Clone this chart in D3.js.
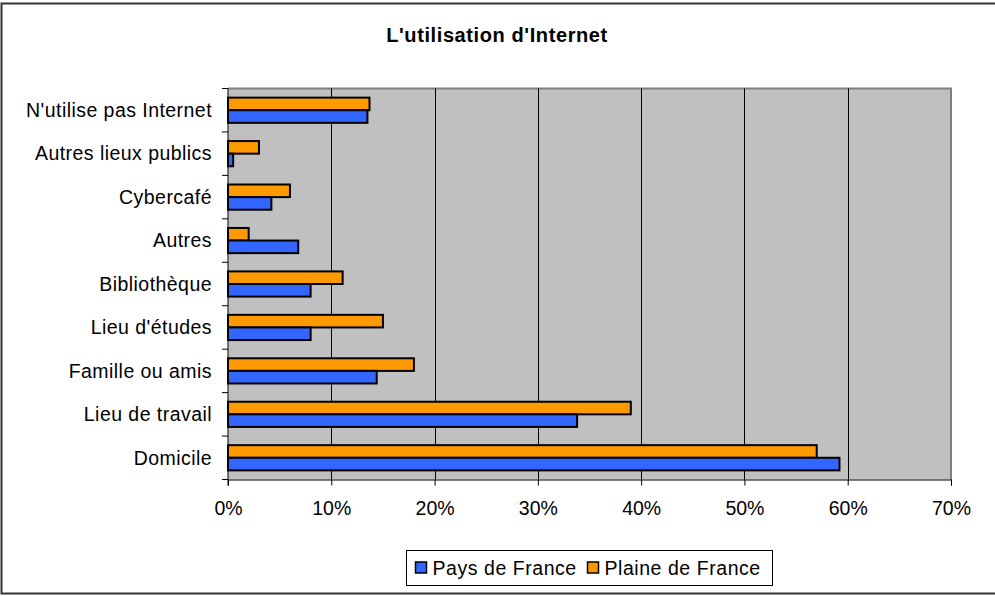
<!DOCTYPE html>
<html>
<head>
<meta charset="utf-8">
<script src="https://cdn.jsdelivr.net/npm/d3@7"></script>
<style>
  body { margin: 0; background: #fff; }
  svg { display: block; font-family: "Liberation Sans", Arial, sans-serif; }
</style>
</head>
<body>
<svg id="chart" width="995" height="596"></svg>
<script>
'use strict';

// categories, top to bottom
const categories = [
    "N'utilise pas Internet",
    "Autres lieux publics",
    "Cybercafé",
    "Autres",
    "Bibliothèque",
    "Lieu d'études",
    "Famille ou amis",
    "Lieu de travail",
    "Domicile"
];

const seriesNames = ["Pays de France", "Plaine de France"];

// percent values
const paysDeFrance = [13.5, 0.5, 4.2, 6.8, 8.0, 8.0, 14.4, 33.8, 59.2];
const plaineDeFrance = [13.7, 3.0, 6.0, 2.0, 11.1, 15.0, 18.0, 39.0, 57.0];

const xTicks = [0, 10, 20, 30, 40, 50, 60, 70];

const colors = {"Pays de France": "#3366FF", "Plaine de France": "#FF9900"};

const svg = d3.select('#chart');

// outer frame
svg.append("rect")
    .attr("x", 1.5).attr("y", 3.5)
    .attr("width", 1000).attr("height", 590)
    .attr("fill", "#fff")
    .attr("stroke", "#333").attr("stroke-width", 2);

svg.append("text")
    .attr("x", 497).attr("y", 42)
    .attr("text-anchor", "middle")
    .style("font-weight", "bold")
    .style("font-size", "20px")
    .style("letter-spacing", "0.6px")
    .text("L'utilisation d'Internet");

const plot = {left: 228, top: 88.5, right: 951, bottom: 479.5};

const x = d3.scaleLinear()
    .domain([0, 70])
    .range([plot.left, plot.right]);

const y = d3.scaleBand()
    .domain(categories)
    .range([plot.top, plot.bottom])
    .paddingInner(0.42)
    .paddingOuter(0.21);

// plaine on top, pays underneath
const ySub = d3.scaleBand()
    .domain(["Plaine de France", "Pays de France"])
    .range([0, y.bandwidth()]);

const g = svg.append("g");

g.append("rect")
    .attr("x", plot.left).attr("y", plot.top)
    .attr("width", plot.right - plot.left)
    .attr("height", plot.bottom - plot.top)
    .attr("fill", "#C0C0C0");

// plot border top/right
g.append("path")
    .attr("d", `M${plot.left},${plot.top}H${plot.right}V${plot.bottom}`)
    .attr("fill", "none")
    .attr("stroke", "#808080")
    .attr("stroke-width", 2);

// gridlines
g.selectAll(".grid")
    .data(xTicks.slice(1, -1))
    .enter()
    .append("line")
    .attr("x1", (d) => Math.round(x(d)) + 0.5)
    .attr("x2", (d) => Math.round(x(d)) + 0.5)
    .attr("y1", plot.top)
    .attr("y2", plot.bottom)
    .attr("stroke", "#000");

const rows = categories.map((c, i) => ({
    category: c,
    values: [
        {name: "Plaine de France", value: plaineDeFrance[i]},
        {name: "Pays de France", value: paysDeFrance[i]}
    ]
}));

g.selectAll(".row")
    .data(rows)
    .enter()
    .append("g")
    .attr("transform", (d) => `translate(0,${y(d.category)})`)
    .selectAll("rect")
    .data((d) => d.values)
    .enter()
    .append("rect")
    .attr("x", x(0))
    .attr("y", (d) => ySub(d.name))
    .attr("width", (d) => x(d.value) - x(0))
    .attr("height", ySub.bandwidth())
    .attr("fill", (d) => colors[d.name])
    .attr("stroke", "#000")
    .attr("stroke-width", 2);

// x axis
const xAxis = svg.append("g")
    .attr("transform", `translate(0,${plot.bottom})`)
    .call(d3.axisBottom(x).tickValues(xTicks).tickSize(6).tickFormat((d) => d + "%"));
xAxis.select(".domain").attr("stroke", "#000");
xAxis.selectAll(".tick line").attr("stroke", "#000");
xAxis.selectAll("text")
    .attr("y", 22)
    .attr("dy", "0.71em")
    .attr("fill", "#000")
    .style("font-size", "19.5px")
    .style("font-family", "Liberation Sans, Arial, sans-serif");

// y axis (ticks at category boundaries)
const yAxis = svg.append("g")
    .attr("transform", `translate(${plot.left},0)`);
yAxis.append("line")
    .attr("x1", 0).attr("x2", 0)
    .attr("y1", plot.top).attr("y2", plot.bottom + 6)
    .attr("stroke", "#000");
const step = y.step();
yAxis.selectAll(".ytick")
    .data(d3.range(categories.length + 1))
    .enter()
    .append("line")
    .attr("x1", -6).attr("x2", 0)
    .attr("y1", (i) => plot.top + i * step)
    .attr("y2", (i) => plot.top + i * step)
    .attr("stroke", "#000");
yAxis.selectAll(".ylabel")
    .data(categories)
    .enter()
    .append("text")
    .attr("x", -16)
    .attr("y", (d) => y(d) + y.bandwidth() / 2)
    .attr("dy", "0.35em")
    .attr("text-anchor", "end")
    .style("font-size", "19.5px")
    .style("letter-spacing", "0.45px")
    .text((d) => d);

// legend
const legend = svg.append("g").attr("transform", "translate(406.5,550.5)");
legend.append("rect")
    .attr("width", 366).attr("height", 35)
    .attr("fill", "#fff").attr("stroke", "#000");
const legendX = [9, 181];
const items = legend.selectAll(".item")
    .data(seriesNames)
    .enter()
    .append("g")
    .attr("transform", (d, i) => `translate(${legendX[i]},0)`);
items.append("rect")
    .attr("x", 0).attr("y", 11.5)
    .attr("width", 11).attr("height", 11)
    .attr("fill", (d) => colors[d])
    .attr("stroke", "#000").attr("stroke-width", 1.5);
items.append("text")
    .attr("x", 17).attr("y", 24)
    .style("font-size", "19.5px")
    .style("letter-spacing", "0.55px")
    .text((d) => d);
</script>
</body>
</html>
